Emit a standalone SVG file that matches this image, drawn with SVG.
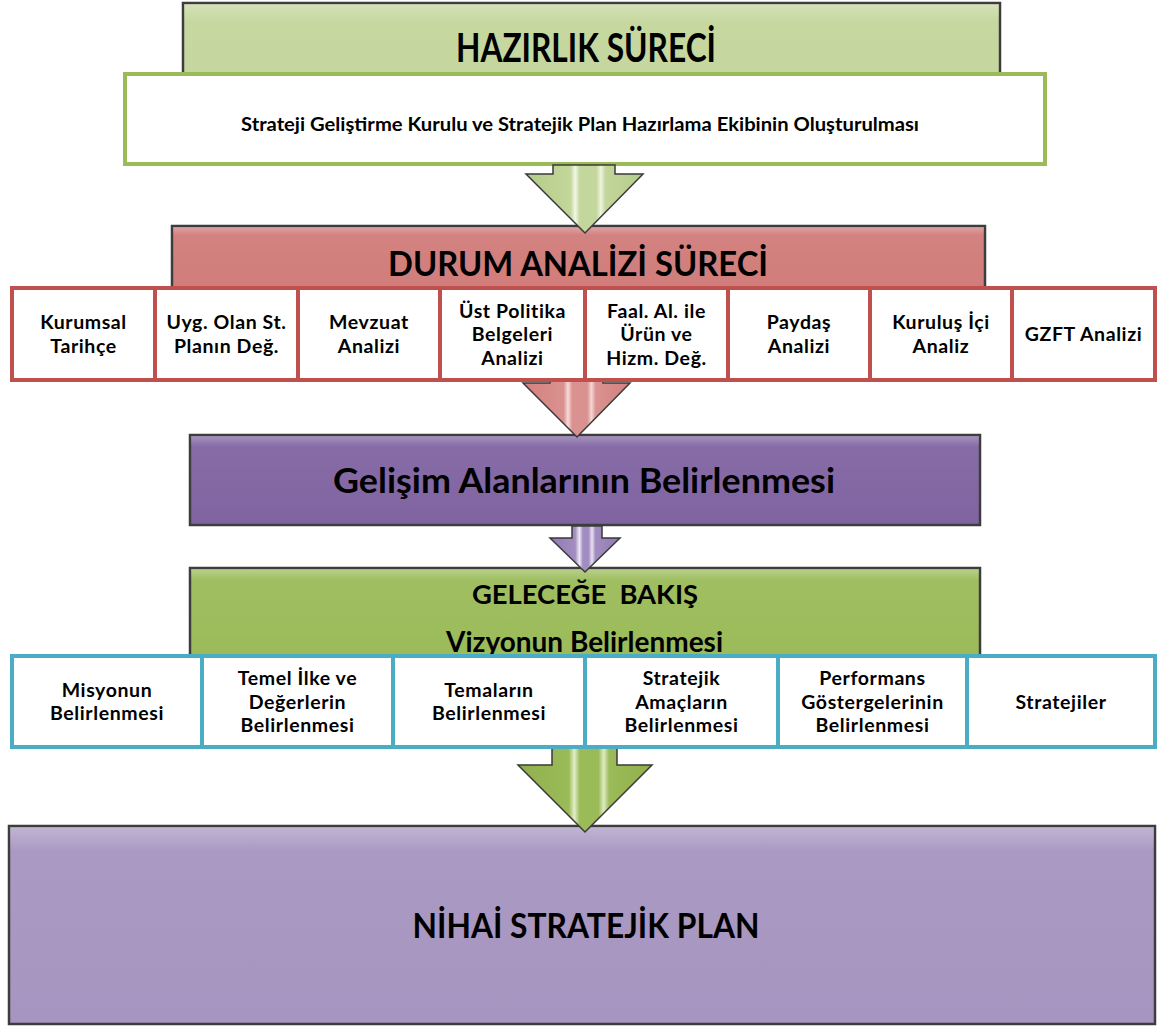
<svg xmlns="http://www.w3.org/2000/svg" width="1157" height="1030" viewBox="0 0 1157 1030">
<style>
.box{stroke:#3d3d3d;stroke-width:2.5}
.gl{fill:none;stroke:url(#glossV);stroke-width:3}
.t{font-family:Lato,"Open Sans","DejaVu Sans",sans-serif;font-weight:700;fill:#000;text-anchor:middle}
.cell{font-size:19.5px;letter-spacing:0.6px}
.rc{fill:#fff;stroke:#c0504d;stroke-width:4}
.bc{fill:#fff;stroke:#4bacc6;stroke-width:4}
.arr{stroke:#3a3a3a;stroke-width:1.5;stroke-linejoin:miter}
</style>
<defs>
<linearGradient id="glossV" x1="0" y1="0" x2="0" y2="1">
<stop offset="0" stop-color="#fff" stop-opacity="0"/>
<stop offset="0.25" stop-color="#fff" stop-opacity="0.7"/>
<stop offset="0.75" stop-color="#fff" stop-opacity="0.7"/>
<stop offset="1" stop-color="#fff" stop-opacity="0"/>
</linearGradient>
<linearGradient id="topShine" x1="0" y1="0" x2="0" y2="1">
<stop offset="0" stop-color="#fff" stop-opacity="0.3"/>
<stop offset="0.12" stop-color="#fff" stop-opacity="0.05"/>
<stop offset="1" stop-color="#fff" stop-opacity="0"/>
</linearGradient>
<linearGradient id="agLight" x1="0" y1="0" x2="1" y2="0">
<stop offset="0" stop-color="#b5cc88"/>
<stop offset="0.38" stop-color="#c3d69b"/>
<stop offset="0.42" stop-color="#f2f7e6"/>
<stop offset="0.46" stop-color="#c3d69b"/>
<stop offset="0.6" stop-color="#c3d69b"/>
<stop offset="0.64" stop-color="#eef4df"/>
<stop offset="0.68" stop-color="#c3d69b"/>
<stop offset="1" stop-color="#b5cc88"/>
</linearGradient>
<linearGradient id="agRed" x1="0" y1="0" x2="1" y2="0">
<stop offset="0" stop-color="#d4807e"/>
<stop offset="0.38" stop-color="#da9290"/>
<stop offset="0.42" stop-color="#f6dcdb"/>
<stop offset="0.46" stop-color="#da9290"/>
<stop offset="0.6" stop-color="#da9290"/>
<stop offset="0.64" stop-color="#f4d6d5"/>
<stop offset="0.68" stop-color="#da9290"/>
<stop offset="1" stop-color="#d4807e"/>
</linearGradient>
<linearGradient id="agPur" x1="0" y1="0" x2="1" y2="0">
<stop offset="0" stop-color="#9279b3"/>
<stop offset="0.36" stop-color="#a28dc0"/>
<stop offset="0.42" stop-color="#eee8f6"/>
<stop offset="0.47" stop-color="#a28dc0"/>
<stop offset="0.55" stop-color="#a28dc0"/>
<stop offset="0.6" stop-color="#e8e0f2"/>
<stop offset="0.65" stop-color="#a28dc0"/>
<stop offset="1" stop-color="#9279b3"/>
</linearGradient>
<linearGradient id="agGreen" x1="0" y1="0" x2="1" y2="0">
<stop offset="0" stop-color="#8fb04c"/>
<stop offset="0.38" stop-color="#9bbb59"/>
<stop offset="0.42" stop-color="#e3eecb"/>
<stop offset="0.46" stop-color="#9bbb59"/>
<stop offset="0.6" stop-color="#9bbb59"/>
<stop offset="0.64" stop-color="#dfebc4"/>
<stop offset="0.68" stop-color="#9bbb59"/>
<stop offset="1" stop-color="#8fb04c"/>
</linearGradient>
</defs>

<g id="hazirlik">
<rect class="box" x="183" y="3" width="817" height="150" fill="#c3d69b"/>
<rect x="184" y="4" width="815" height="148" fill="url(#topShine)"/>
<line class="gl" x1="193" y1="10" x2="193" y2="150"/>
<line class="gl" x1="990" y1="10" x2="990" y2="150"/>
<text class="t" x="586" y="62" font-size="40" textLength="260" lengthAdjust="spacingAndGlyphs">HAZIRLIK SÜRECİ</text>
</g>

<g id="kurul">
<rect x="125" y="74" width="920" height="90" fill="#fff" stroke="#9bbb59" stroke-width="4"/>
<text class="t" x="580" y="131" font-size="19.5" textLength="678" lengthAdjust="spacingAndGlyphs">Strateji Geliştirme Kurulu ve Stratejik Plan Hazırlama Ekibinin Oluşturulması</text>
</g>

<g id="durum">
<rect class="box" x="172" y="226" width="813" height="70" fill="#d07c7a"/>
<rect x="173" y="227" width="811" height="68" fill="url(#topShine)"/>
<line class="gl" x1="182" y1="232" x2="182" y2="290"/>
<line class="gl" x1="975" y1="232" x2="975" y2="290"/>
<text class="t" x="578" y="276" font-size="35" textLength="380" lengthAdjust="spacingAndGlyphs">DURUM ANALİZİ SÜRECİ</text>
</g>

<g id="gelisim">
<rect class="box" x="190" y="435" width="790" height="90" fill="#8064a2"/>
<rect x="191" y="436" width="788" height="88" fill="url(#topShine)"/>
<line class="gl" x1="200" y1="442" x2="200" y2="518"/>
<line class="gl" x1="970" y1="442" x2="970" y2="518"/>
<text class="t" x="584" y="493" font-size="34" textLength="502" lengthAdjust="spacingAndGlyphs">Gelişim Alanlarının Belirlenmesi</text>
</g>

<g id="gelecege">
<rect class="box" x="190" y="568" width="790" height="95" fill="#9bbb59"/>
<rect x="191" y="569" width="788" height="93" fill="url(#topShine)"/>
<line class="gl" x1="200" y1="575" x2="200" y2="660"/>
<line class="gl" x1="970" y1="575" x2="970" y2="660"/>
<text class="t" x="585" y="604" font-size="26" textLength="226" lengthAdjust="spacingAndGlyphs" xml:space="preserve">GELECEĞE  BAKIŞ</text>
<text class="t" x="584.5" y="652" font-size="28" textLength="277" lengthAdjust="spacingAndGlyphs">Vizyonun Belirlenmesi</text>
</g>

<g id="nihai">
<rect class="box" x="9" y="826" width="1146" height="198" fill="#a695c0"/>
<rect x="10" y="827" width="1144" height="196" fill="url(#topShine)"/>
<line class="gl" x1="19" y1="834" x2="19" y2="1016"/>
<line class="gl" x1="1146" y1="834" x2="1146" y2="1016"/>
<text class="t" x="586" y="938" font-size="34" textLength="347" lengthAdjust="spacingAndGlyphs">NİHAİ STRATEJİK PLAN</text>
</g>

<g id="connectors">
<polygon class="arr" fill="url(#agLight)" points="553,165 615,165 615,174 643,174 585,233 526,174 553,174"/>
<polygon class="arr" fill="url(#agRed)" points="550,375 603,375 603,383 630,383 577,437 523,383 550,383"/>
<polygon class="arr" fill="url(#agPur)" points="572,526 602,526 602,538 620,538 585,572 550,538 572,538"/>
<polygon class="arr" fill="url(#agGreen)" points="552,748 617,748 617,765 652,765 585,832 518,765 552,765"/>
</g>

<g id="durum-cells" class="t cell">
<g id="c-kurumsal"><rect class="rc" x="12" y="288" width="143" height="92"/><text x="83.5" y="329.25">Kurumsal</text><text x="83.5" y="352.75">Tarihçe</text></g>
<g id="c-uyg"><rect class="rc" x="155" y="288" width="143" height="92"/><text x="226.5" y="329.25">Uyg. Olan St.</text><text x="226.5" y="352.75">Planın Değ.</text></g>
<g id="c-mevzuat"><rect class="rc" x="298" y="288" width="142" height="92"/><text x="369" y="329.25">Mevzuat</text><text x="369" y="352.75">Analizi</text></g>
<g id="c-ust"><rect class="rc" x="440" y="288" width="145" height="92"/><text x="512.5" y="317.5">Üst Politika</text><text x="512.5" y="341">Belgeleri</text><text x="512.5" y="364.5">Analizi</text></g>
<g id="c-faal"><rect class="rc" x="585" y="288" width="143" height="92"/><text x="656.5" y="317.5">Faal. Al. ile</text><text x="656.5" y="341">Ürün ve</text><text x="656.5" y="364.5">Hizm. Değ.</text></g>
<g id="c-paydas"><rect class="rc" x="728" y="288" width="142" height="92"/><text x="799" y="329.25">Paydaş</text><text x="799" y="352.75">Analizi</text></g>
<g id="c-kurulus"><rect class="rc" x="870" y="288" width="142" height="92"/><text x="941" y="329.25">Kuruluş İçi</text><text x="941" y="352.75">Analiz</text></g>
<g id="c-gzft"><rect class="rc" x="1012" y="288" width="143" height="92"/><text x="1083.5" y="341">GZFT Analizi</text></g>
</g>

<g id="gelecek-cells" class="t cell">
<g id="c-misyon"><rect class="bc" x="12" y="656" width="190" height="91"/><text x="107" y="696.75">Misyonun</text><text x="107" y="720.25">Belirlenmesi</text></g>
<g id="c-temel"><rect class="bc" x="202" y="656" width="191" height="91"/><text x="297.5" y="685">Temel İlke ve</text><text x="297.5" y="708.5">Değerlerin</text><text x="297.5" y="732">Belirlenmesi</text></g>
<g id="c-tema"><rect class="bc" x="393" y="656" width="192" height="91"/><text x="489" y="696.75">Temaların</text><text x="489" y="720.25">Belirlenmesi</text></g>
<g id="c-amac"><rect class="bc" x="585" y="656" width="193" height="91"/><text x="681.5" y="685">Stratejik</text><text x="681.5" y="708.5">Amaçların</text><text x="681.5" y="732">Belirlenmesi</text></g>
<g id="c-perf"><rect class="bc" x="778" y="656" width="189" height="91"/><text x="872.5" y="685">Performans</text><text x="872.5" y="708.5">Göstergelerinin</text><text x="872.5" y="732">Belirlenmesi</text></g>
<g id="c-strat"><rect class="bc" x="967" y="656" width="188" height="91"/><text x="1061" y="708.5">Stratejiler</text></g>
</g>
</svg>
